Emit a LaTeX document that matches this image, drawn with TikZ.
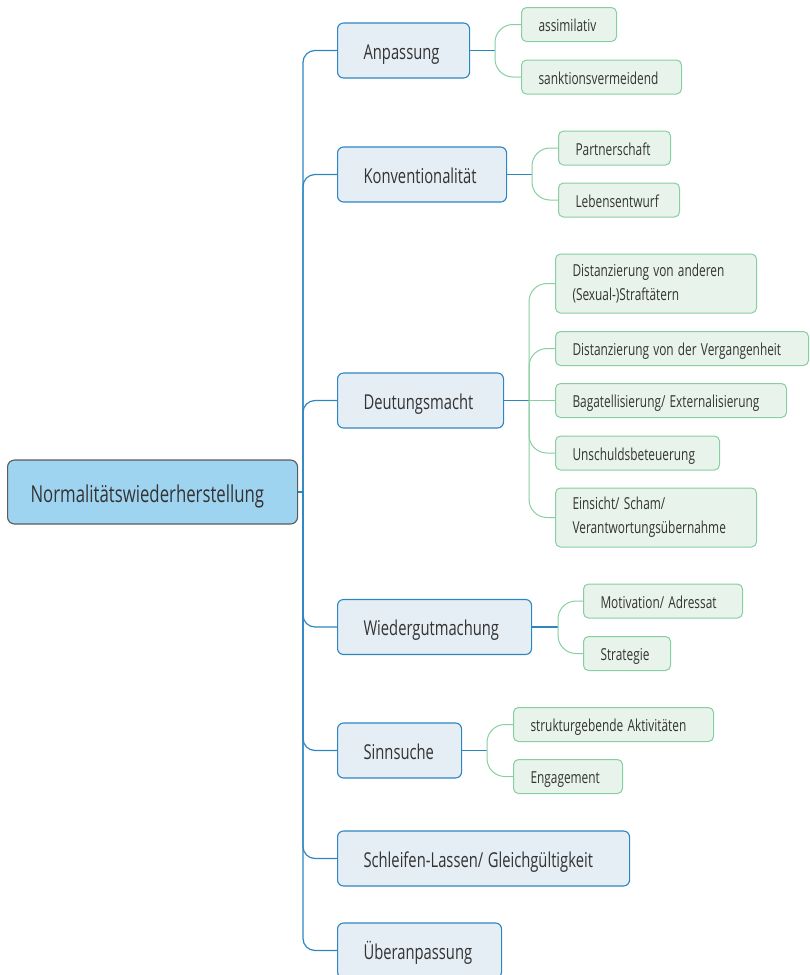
\documentclass[tikz,border=0pt]{standalone}
\usepackage{fontspec}
\setmainfont{Open Sans}[FakeStretch=0.72]
\definecolor{mainborder}{HTML}{2E86C1}
\definecolor{mainfill}{HTML}{E6EEF5}
\definecolor{rootfill}{HTML}{9FD4F1}
\definecolor{rootborder}{HTML}{5A5A5A}
\definecolor{childborder}{HTML}{86CFA0}
\definecolor{childfill}{HTML}{E8F3EB}
\definecolor{txt}{HTML}{333333}
\begin{document}
\begin{tikzpicture}[x=1pt,y=-1pt,
  rootbox/.style={draw=rootborder, fill=rootfill, line width=1.1pt, rounded corners=7pt, anchor=west,
    minimum height=64pt, inner xsep=23pt, inner ysep=0pt, align=left, text=txt,
    text height=24pt, text depth=4pt,
    font=\fontsize{23.3}{28}\selectfont, execute at begin node={\spaceskip=4.5pt\relax}},
  mainbox/.style={draw=mainborder, fill=mainfill, line width=1.1pt, rounded corners=6pt, anchor=west,
    minimum height=55pt, inner xsep=26pt, inner ysep=0pt, align=left, text=txt,
    text height=21pt, text depth=4pt,
    font=\fontsize{20.5}{25}\selectfont, execute at begin node={\spaceskip=4.5pt\relax}},
  childbox/.style={draw=childborder, fill=childfill, line width=1pt, rounded corners=5pt, anchor=west,
    minimum height=34pt, inner xsep=17pt, inner ysep=0pt, align=left, text=txt,
    text height=17pt, text depth=3pt,
    font=\fontsize{16.5}{24}\selectfont, execute at begin node={\spaceskip=4.2pt\relax}},
  twoline/.style={text height=, text depth=, minimum height=59pt},
  trunk/.style={draw=mainborder, line width=1.2pt, rounded corners=12pt},
  mainline/.style={draw=mainborder, line width=1.2pt},
  childline/.style={draw=childborder, line width=1pt, rounded corners=18pt}
]
\useasboundingbox (0,0) rectangle (809,975);

% root
\node[rootbox, text width=244pt] (root) at (7,492) {\mbox{Normalitätswiederherstellung}};

% main nodes
\node[mainbox, text width=80pt]  (m1) at (337,50.5)  {\mbox{Anpassung}};
\node[mainbox, text width=117pt] (m2) at (337,174.5) {\mbox{Konventionalität}};
\node[mainbox, text width=114pt] (m3) at (337,400.5) {\mbox{Deutungsmacht}};
\node[mainbox, text width=142pt] (m4) at (337,627)   {\mbox{Wiedergutmachung}};
\node[mainbox, text width=72pt]  (m5) at (337,750.5) {\mbox{Sinnsuche}};
\node[mainbox, text width=240pt] (m6) at (337,858.5) {\mbox{Schleifen-Lassen/ Gleichgültigkeit}};
\node[mainbox, text width=112pt] (m7) at (337,950.5) {\mbox{Überanpassung}};

% children
\node[childbox, text width=61pt]  (c11) at (521,24.5) {\mbox{assimilativ}};
\node[childbox, text width=126pt] (c12) at (521,77)   {\mbox{sanktionsvermeidend}};
\node[childbox, text width=78pt]  (c21) at (558,148)  {\mbox{Partnerschaft}};
\node[childbox, text width=87pt]  (c22) at (558,200)  {\mbox{Lebensentwurf}};
\node[childbox, twoline, text width=167pt] (c31) at (555,283.5) {\mbox{Distanzierung von anderen}\\\mbox{(Sexual-)Straftätern}};
\node[childbox, text width=219pt] (c32) at (555,348.5) {\mbox{Distanzierung von der Vergangenheit}};
\node[childbox, text width=197pt] (c33) at (555,400.5) {\mbox{Bagatellisierung/ Externalisierung}};
\node[childbox, text width=130pt] (c34) at (555,453)   {\mbox{Unschuldsbeteuerung}};
\node[childbox, twoline, text width=167pt] (c35) at (555,517.5) {\mbox{Einsicht/ Scham/}\\\mbox{Verantwortungsübernahme}};
\node[childbox, text width=125pt] (c41) at (583,601)   {\mbox{Motivation/ Adressat}};
\node[childbox, text width=53pt]  (c42) at (583,653.5) {\mbox{Strategie}};
\node[childbox, text width=166pt] (c51) at (513,724.5) {\mbox{strukturgebende Aktivitäten}};
\node[childbox, text width=75pt]  (c52) at (513,776.5) {\mbox{Engagement}};

% trunk
\coordinate (tr) at (303,492);
\draw[mainline] (root.east) -- (tr);
\foreach \m in {m1,m2,m3,m4,m5,m6,m7}{
  \draw[trunk] (tr) |- (\m.west);
}

% branches
\coordinate (b1) at (495,50.5);
\draw[mainline] (m1.east) -- (b1);
\draw[childline] (b1) |- (c11.west);
\draw[childline] (b1) |- (c12.west);

\coordinate (b2) at (532,174.5);
\draw[mainline] (m2.east) -- (b2);
\draw[childline] (b2) |- (c21.west);
\draw[childline] (b2) |- (c22.west);

\coordinate (b3) at (529,400.5);
\draw[mainline] (m3.east) -- (b3);
\foreach \c in {c31,c32,c34,c35}{
  \draw[childline] (b3) |- (\c.west);
}
\draw[childline] (b3) -- (c33.west);

\coordinate (b4) at (558,627);
\draw[mainline] (m4.east) -- (b4);
\draw[childline] (b4) |- (c41.west);
\draw[childline] (b4) |- (c42.west);

\coordinate (b5) at (487,750.5);
\draw[mainline] (m5.east) -- (b5);
\draw[childline] (b5) |- (c51.west);
\draw[childline] (b5) |- (c52.west);
\end{tikzpicture}
\end{document}
